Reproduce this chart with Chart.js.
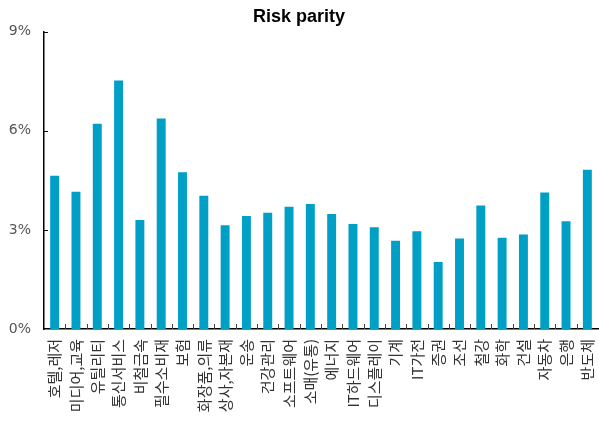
<!DOCTYPE html>
<html>
<head>
<meta charset="utf-8">
<script src="https://cdn.jsdelivr.net/npm/chart.js@4/dist/chart.umd.min.js"></script>
<style>
  html, body { margin: 0; padding: 0; background: #fff; }
  #wrap { width: 599px; height: 427px; }
</style>
</head>
<body>
<div id="wrap"><canvas id="c" width="599" height="427"></canvas></div>
<script>
// Sector weights under a risk-parity allocation (%)
const sectors = ['호텔,레저', '미디어,교육', '유틸리티', '통신서비스', '비철금속', '필수소비재', '보험',
  '화장품,의류', '상사,자본재', '운송', '건강관리', '소프트웨어', '소매(유통)', '에너지', 'IT하드웨어',
  '디스플레이', '기계', 'IT가전', '증권', '조선', '철강', '화학', '건설', '자동차', '은행', '반도체'];
const weights = [4.64, 4.15, 6.21, 7.52, 3.30, 6.37, 4.74, 4.03, 3.14, 3.42, 3.52, 3.70, 3.78,
  3.48, 3.18, 3.08, 2.67, 2.96, 2.03, 2.74, 3.74, 2.76, 2.86, 4.13, 3.26, 4.82];
const yTicks = [0, 3, 6, 9];

// Short inward tick marks on both axes
const innerTicks = {
  id: 'innerTicks',
  afterDatasetsDraw(chart) {
    const { ctx, scales: { x, y } } = chart;
    ctx.save();
    ctx.lineWidth = 1;
    ctx.strokeStyle = '#444';
    const base = y.getPixelForValue(0);
    const n = sectors.length;
    const step = (x.right - x.left) / n;
    for (let i = 1; i < n; i++) {
      const px = Math.round(x.left + i * step) + 0.5;
      ctx.beginPath();
      ctx.moveTo(px, base);
      ctx.lineTo(px, base - 5);
      ctx.stroke();
    }
    ctx.strokeStyle = '#000';
    yTicks.forEach(v => {
      if (v === 0) return;
      const py = Math.round(y.getPixelForValue(v)) + 0.5;
      ctx.beginPath();
      ctx.moveTo(x.left, py);
      ctx.lineTo(x.left + 4, py);
      ctx.stroke();
    });
    ctx.restore();
  }
};

new Chart(document.getElementById('c'), {
  type: 'bar',
  data: {
    labels: sectors,
    datasets: [{
      data: weights,
      backgroundColor: '#00a0c6',
      borderWidth: 0,
      categoryPercentage: 1,
      barPercentage: 0.42
    }]
  },
  options: {
    responsive: false,
    animation: false,
    layout: { padding: { left: 0, right: 1, top: 0, bottom: 0 } },
    plugins: {
      legend: { display: false },
      tooltip: { enabled: false },
      title: {
        display: true,
        text: 'Risk parity',
        color: '#000',
        font: { family: '"Liberation Sans", Arial, sans-serif', size: 18, weight: 'bold' },
        padding: { top: 6, bottom: 4 }
      }
    },
    scales: {
      x: {
        grid: { display: false, drawTicks: false },
        border: { display: true, color: '#000', width: 1.5 },
        ticks: {
          autoSkip: false,
          minRotation: 90,
          maxRotation: 90,
          padding: 10,
          color: '#333',
          font: { family: '"Noto Sans CJK KR", sans-serif', size: 15 }
        },
        afterFit(scale) {
          scale.height = 98;
          scale.paddingLeft = 0;
          scale.paddingRight = 0;
        }
      },
      y: {
        min: 0,
        max: 9,
        grid: { display: false, drawTicks: false },
        border: { display: true, color: '#000', width: 1.5 },
        afterBuildTicks(scale) { scale.ticks = yTicks.map(v => ({ value: v })); },
        ticks: {
          padding: 13,
          color: '#555',
          font: { family: '"DejaVu Sans", sans-serif', size: 14 },
          callback: v => v + '%'
        },
        afterFit(scale) { scale.width = 44; }
      }
    }
  },
  plugins: [innerTicks]
});
</script>
</body>
</html>
